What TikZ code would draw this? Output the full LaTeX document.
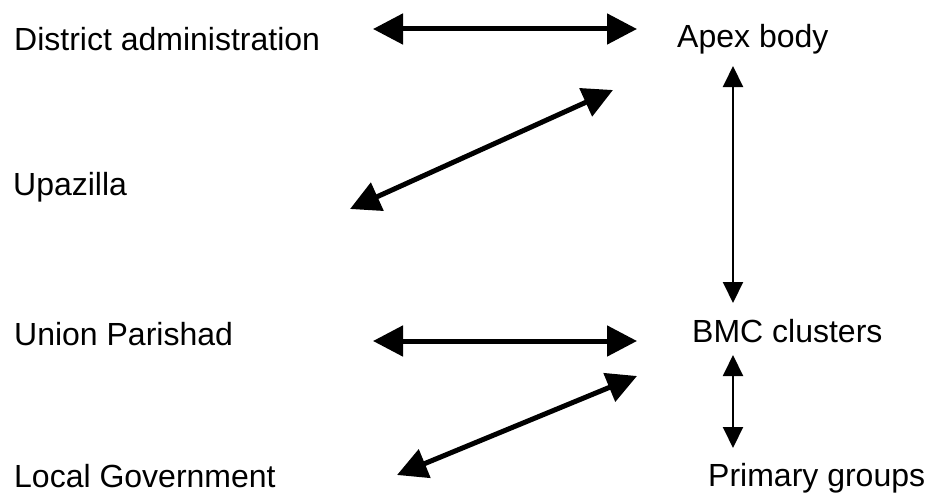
\documentclass[tikz,border=0pt]{standalone}
\usepackage{fontspec}
\setmainfont{Liberation Sans}
\usetikzlibrary{arrows.meta}
\tikzset{
  lbl/.style={anchor=base west,inner sep=0pt,font=\fontsize{32}{38}\selectfont},
  bigarrow/.style={line width=5pt,{Triangle[length=30pt,width=30pt]}-{Triangle[length=30pt,width=30pt]}},
  smallarrow/.style={line width=2pt,{Triangle[length=21pt,width=20pt]}-{Triangle[length=21pt,width=20pt]}}
}
\begin{document}
\begin{tikzpicture}[x=1pt,y=1pt,yscale=-1,xscale=1]
\useasboundingbox (0,0) rectangle (925,495);

% Text Node
\node[lbl] (district) at (14,50) {District administration};
% Text Node
\node[lbl] (apex) at (677,48) {Apex body};
% Text Node
\node[lbl] (upazilla) at (13,195) {Upazilla};
% Text Node
\node[lbl] (union) at (14,345) {Union Parishad};
% Text Node
\node[lbl] (bmc) at (692,342) {BMC clusters};
% Text Node
\node[lbl] (localgov) at (14,487) {Local Government};
% Text Node
\node[lbl] (primary) at (708,486) {Primary groups};

%Arrow ends
\coordinate (districtR) at (373,29);
\coordinate (apexL) at (637,29);
\coordinate (upazillaR) at (350,209);
\coordinate (apexSW) at (613,90);
\coordinate (apexS) at (733,66);
\coordinate (bmcN) at (733,303);
\coordinate (unionR) at (373,341);
\coordinate (bmcL) at (637,341);
\coordinate (localgovR) at (397,475);
\coordinate (bmcSW) at (637,376);
\coordinate (bmcS) at (733,355);
\coordinate (primaryN) at (733,448);

%Straight Lines
\draw[bigarrow] (districtR) -- (apexL);
%Straight Lines
\draw[bigarrow] (upazillaR) -- (apexSW);
%Straight Lines
\draw[smallarrow] (apexS) -- (bmcN);
%Straight Lines
\draw[bigarrow] (unionR) -- (bmcL);
%Straight Lines
\draw[bigarrow] (localgovR) -- (bmcSW);
%Straight Lines
\draw[smallarrow] (bmcS) -- (primaryN);

\end{tikzpicture}
\end{document}
